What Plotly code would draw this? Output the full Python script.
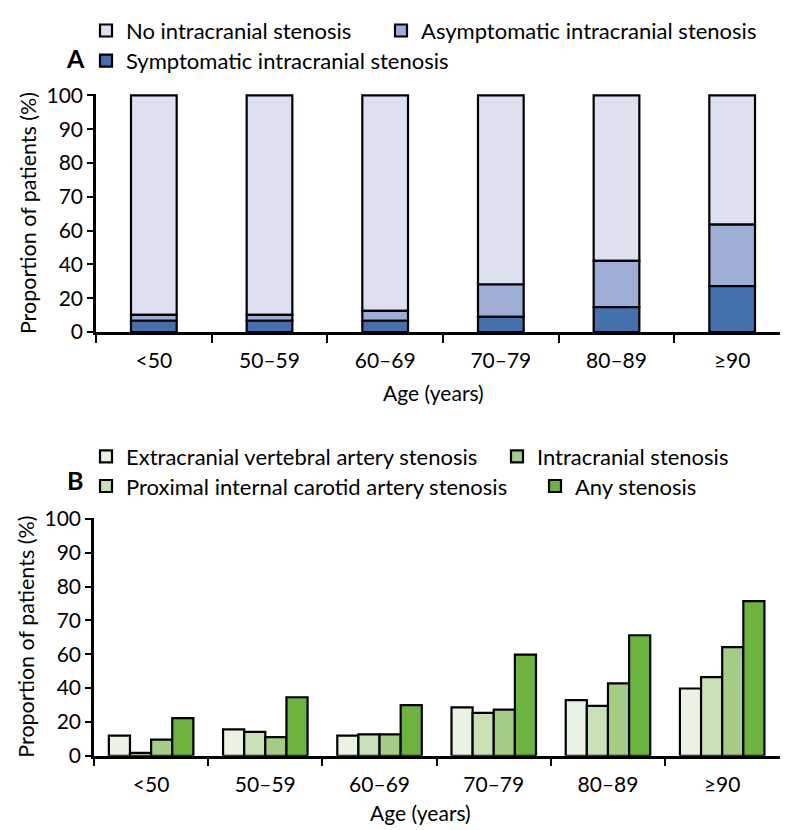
import plotly.graph_objects as go

# ---------------- data ----------------
age_groups = ["<50", "50–59", "60–69", "70–79", "80–89", "≥90"]

# Panel A (stacked, linear axis units)
symptomatic = [4.8, 4.8, 4.8, 6.4, 10.5, 19.4]
asymptomatic = [2.5, 2.5, 4.2, 13.7, 19.6, 26.0]
no_stenosis = [92.7, 92.7, 91.0, 79.9, 69.9, 54.6]

# Panel B (grouped, linear axis units)
extracranial = [8.5, 11.1, 8.5, 20.4, 23.5, 28.4]
proximal_ica = [1.2, 10.1, 9.0, 18.1, 21.1, 33.2]
intracranial = [6.8, 7.9, 9.0, 19.5, 30.6, 45.9]
any_stenosis = [15.9, 24.7, 21.4, 42.7, 50.9, 65.3]

tick_labels = ["0", "20", "40", "60", "70", "80", "90", "100"]
tick_positions = [i * 100 / 7 for i in range(len(tick_labels))]

# ---------------- style ----------------
FONT = "Lato"
W, H = 788, 830
LINE = dict(color="black", width=2.2)

colA = {"none": "#DDE1EF", "asym": "#9DADD6", "sym": "#4470AE"}
colB = ["#EAF2E3", "#C9E1B6", "#A4CC87", "#6CB33F"]


def px_x(p):
    return p / W


def px_y(p):
    return 1 - p / H


xpos = list(range(len(age_groups)))          # category slots
boundaries = [i - 0.5 for i in range(len(age_groups) + 1)]

fig = go.Figure()

base_asym = symptomatic
base_none = [s + a for s, a in zip(symptomatic, asymptomatic)]

fig.add_trace(go.Bar(x=xpos, y=no_stenosis, base=base_none, name="No intracranial stenosis",
                     marker=dict(color=colA["none"], line=LINE), width=0.395,
                     xaxis="x", yaxis="y", legend="legend", showlegend=True))
fig.add_trace(go.Bar(x=xpos, y=asymptomatic, base=base_asym, name="Asymptomatic intracranial stenosis",
                     marker=dict(color=colA["asym"], line=LINE), width=0.395,
                     xaxis="x", yaxis="y", legend="legend2", showlegend=True))
fig.add_trace(go.Bar(x=xpos, y=symptomatic, name="Symptomatic intracranial stenosis",
                     marker=dict(color=colA["sym"], line=LINE), width=0.395,
                     xaxis="x", yaxis="y", legend="legend3", showlegend=True))

bw = 0.185
b_series = [
    ("Extracranial vertebral artery stenosis", extracranial, "legend4"),
    ("Proximal internal carotid artery stenosis", proximal_ica, "legend5"),
    ("Intracranial stenosis", intracranial, "legend6"),
    ("Any stenosis", any_stenosis, "legend7"),
]
for k, (name, vals, lg) in enumerate(b_series):
    fig.add_trace(go.Bar(x=xpos, y=vals, name=name,
                         marker=dict(color=colB[k], line=LINE),
                         width=bw, offset=-2 * bw + k * bw,
                         xaxis="x2", yaxis="y2", legend=lg, showlegend=True))


def xaxis_cfg(domain, anchor, rng, bounds):
    return dict(domain=domain, anchor=anchor, range=rng,
                tickmode="array", tickvals=xpos, ticktext=age_groups,
                showline=True, linecolor="black", linewidth=2.5,
                ticks="outside", ticklen=8, tickwidth=2, tickcolor="rgba(0,0,0,0)",
                minor=dict(tickmode="array", tickvals=bounds, ticks="outside",
                           ticklen=8, tickwidth=2, tickcolor="black", showgrid=False),
                showgrid=False, zeroline=False,
                tickfont=dict(family=FONT, size=21, color="black"))


yaxis_common = dict(range=[0, 100.6], tickvals=tick_positions, ticktext=tick_labels,
                    showline=True, linecolor="black", linewidth=2.5,
                    ticks="outside", ticklen=6, tickwidth=2, tickcolor="black",
                    showgrid=False, zeroline=False,
                    tickfont=dict(family=FONT, size=21, color="black"))

legend_common = dict(orientation="h", xanchor="left", yanchor="middle", visible=True,
                     font=dict(family=FONT, size=22, color="black"),
                     bgcolor="rgba(0,0,0,0)", itemwidth=30, itemclick=False,
                     tracegroupgap=0)

TXT_OFF = 50  # distance from legend x to start of item text

# panel B: last slot runs a little past the final group
b_end = 5.62
b_bounds = boundaries[:-1] + [b_end]

fig.update_layout(
    width=W, height=H,
    margin=dict(l=0, r=0, t=0, b=0),
    paper_bgcolor="white", plot_bgcolor="white",
    barmode="overlay",
    showlegend=True,
    font=dict(family=FONT, size=21, color="black"),
    xaxis=xaxis_cfg([px_x(88), px_x(782)], "y", [-0.5, 5.5], boundaries),
    yaxis=dict(domain=[px_y(321), px_y(321 - 100.6 * 2.435)], anchor="x",
               title=dict(text="Proportion of patients (%)", font=dict(family=FONT, size=21.5), standoff=4),
               **yaxis_common),
    xaxis2=xaxis_cfg([px_x(86), px_x(785)], "y2", [-0.5, b_end], b_bounds),
    yaxis2=dict(domain=[px_y(756.7), px_y(756.7 - 100.6 * 2.435)], anchor="x2",
                title=dict(text="Proportion of patients (%)", font=dict(family=FONT, size=21.5), standoff=4),
                **yaxis_common),
    legend=dict(x=px_x(128 - TXT_OFF), y=px_y(11), **legend_common),
    legend2=dict(x=px_x(423 - TXT_OFF), y=px_y(11), **legend_common),
    legend3=dict(x=px_x(128 - TXT_OFF), y=px_y(42), **legend_common),
    legend4=dict(x=px_x(128 - TXT_OFF), y=px_y(449), **legend_common),
    legend5=dict(x=px_x(128 - TXT_OFF), y=px_y(479.5), **legend_common),
    legend6=dict(x=px_x(539 - TXT_OFF), y=px_y(449), **legend_common),
    legend7=dict(x=px_x(577 - TXT_OFF), y=px_y(479.5), **legend_common),
    annotations=[
        dict(text="<b>A</b>", x=px_x(67), y=px_y(39), xref="paper", yref="paper",
             xanchor="center", yanchor="middle",
             showarrow=False, font=dict(family=FONT, size=25, color="black")),
        dict(text="<b>B</b>", x=px_x(67), y=px_y(473), xref="paper", yref="paper",
             xanchor="center", yanchor="middle",
             showarrow=False, font=dict(family=FONT, size=25, color="black")),
        dict(text="Age (years)", x=px_x(425), y=px_y(383), xref="paper", yref="paper",
             xanchor="center", yanchor="middle",
             showarrow=False, font=dict(family=FONT, size=21, color="black")),
        dict(text="Age (years)", x=px_x(412), y=px_y(815), xref="paper", yref="paper",
             xanchor="center", yanchor="middle",
             showarrow=False, font=dict(family=FONT, size=21, color="black")),
    ],
)

fig.write_html("out.html")
